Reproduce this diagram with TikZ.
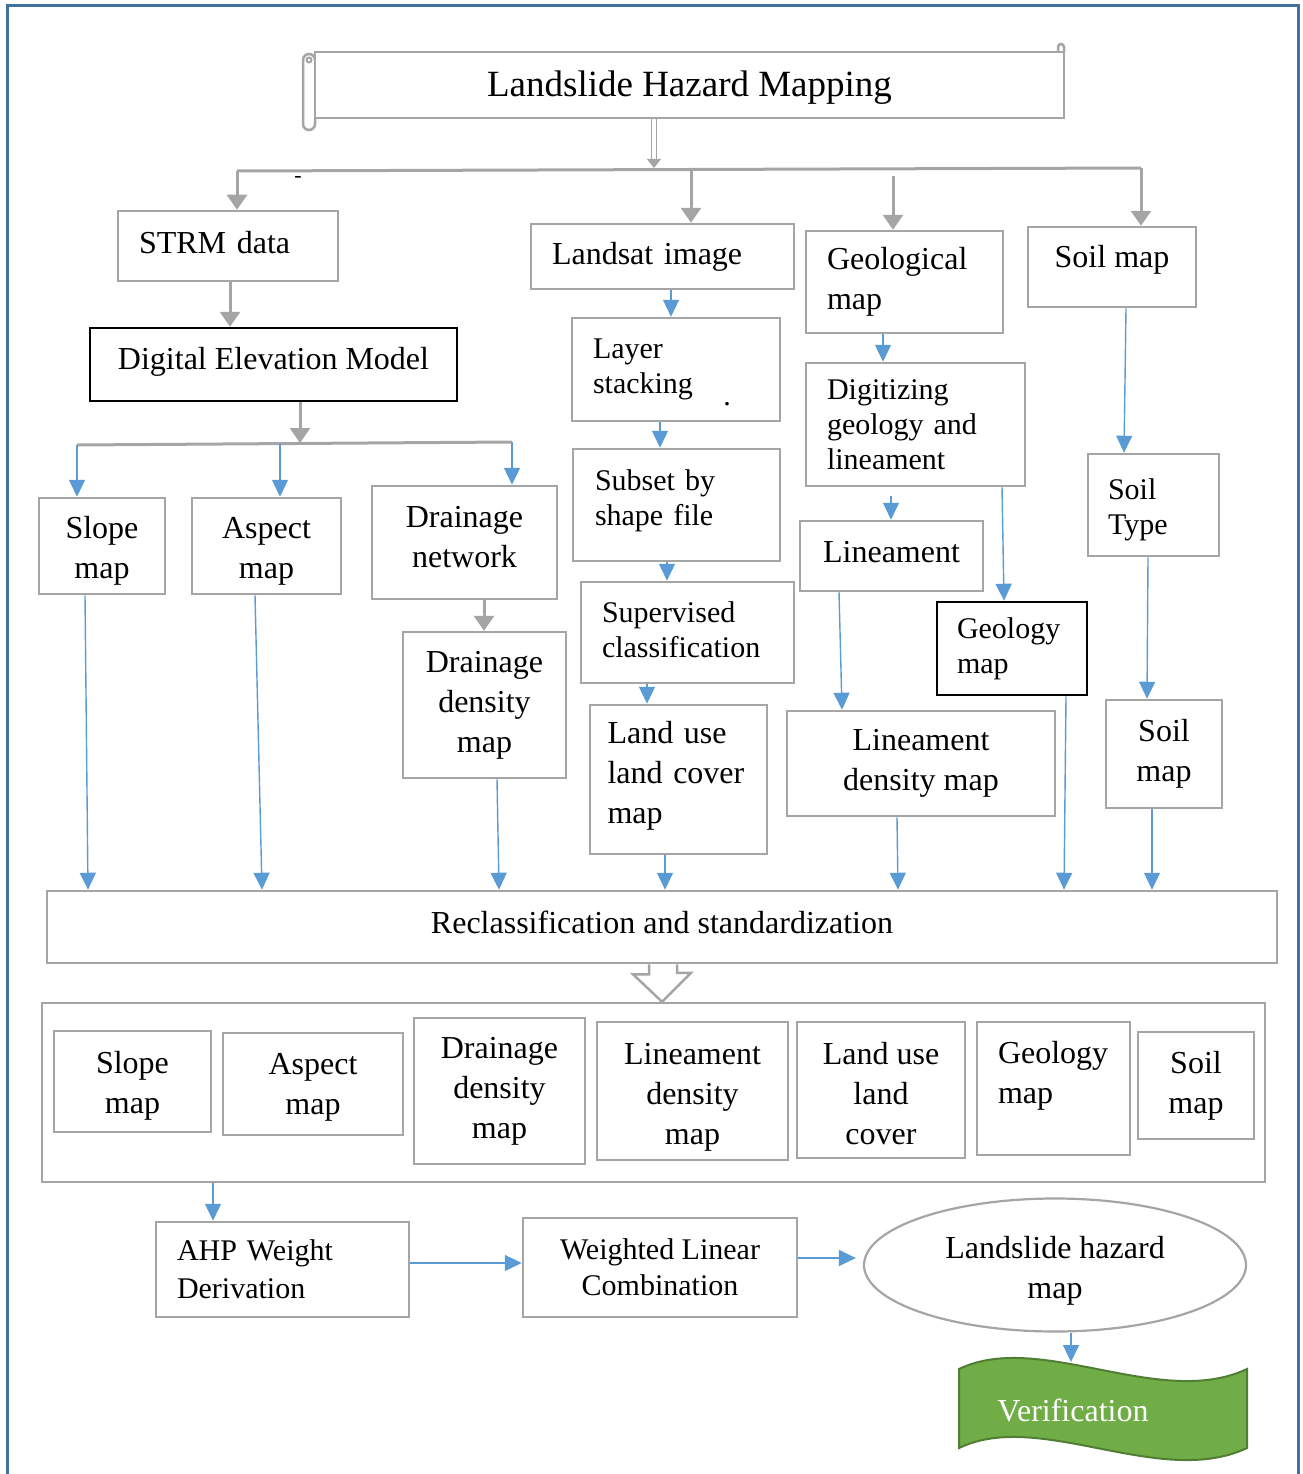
\documentclass[tikz,border=0pt]{standalone}
\usepackage{fontspec}
\setmainfont{Liberation Serif}
\usetikzlibrary{arrows.meta,shapes.geometric}

\definecolor{boxgray}{HTML}{A5A5A5}
\definecolor{linkblue}{HTML}{5B9BD5}
\definecolor{frameblue}{HTML}{41719C}
\definecolor{verifgreen}{HTML}{70AD47}
\definecolor{verifedge}{HTML}{507E32}

\newcommand{\fsnorm}{\fontsize{32}{40}\selectfont}
\newcommand{\fssmall}{\fontsize{30}{35}\selectfont}
\newcommand{\fstitle}{\fontsize{37}{44}\selectfont}
% invisible struts to nudge text in its box
\newcommand{\lift}[1]{\rule[-#1]{0pt}{0pt}}
\newcommand{\drop}[1]{\rule{0pt}{#1}}

\tikzset{
  box/.style={draw=boxgray, line width=2.5pt, inner sep=0pt, font=\fsnorm, align=center},
  darkbox/.style={box, draw=black},
  lbox/.style={box, align=left},
  gline/.style={draw=boxgray, line width=3pt},
  garrow/.style={draw=boxgray, line width=3pt, -{Triangle[length=15pt,width=20pt]}},
  gdouble/.style={draw=boxgray, line width=1.5pt, double=white, double distance=3.5pt, -{Triangle[length=9pt,width=14pt]}},
  barrow/.style={draw=linkblue, line width=1.4pt, -{Triangle[length=17pt,width=16pt]}},
  hollow/.style={draw=boxgray, line width=2.5pt, fill=white, line join=miter},
}

\begin{document}
\begin{tikzpicture}[x=1pt,y=1pt,yscale=-1,xscale=1]
\useasboundingbox (0,0) rectangle (1302,1474);

%Frame
\draw[frameblue, line width=3pt] (7,1474) -- (7,6) -- (1298,6) -- (1298,1474);

%Shape: Horizontal Scroll
\node[box, font=\fstitle, minimum width=749, minimum height=66] (title) at (689.5,85) {\drop{31pt}Landslide Hazard Mapping};
\draw[boxgray, line width=2.5pt] (303,60) -- (303,124) arc[start angle=180, end angle=0, radius=6] -- (315,118);
\draw[boxgray, line width=2.5pt] (303,60) arc[start angle=180, end angle=360, radius=6];
\draw[boxgray, line width=2pt] (309,60) circle[radius=2.5];
\draw[boxgray, line width=2.5pt] (1058,52) -- (1058,47) arc[start angle=180, end angle=360, radius=3] -- (1064,52);

% Sources
\node[lbox, minimum width=220, minimum height=70, text width=178] (strm) at (228,246) {STRM data\lift{8pt}};
\node[lbox, minimum width=263, minimum height=65, text width=221] (landsat) at (662.5,256.5) {Landsat image};
\node[lbox, minimum width=197, minimum height=102, text width=155] (geol) at (904.5,282) {Geological\\map};
\node[box, minimum width=168, minimum height=80] (soilA) at (1112,267) {Soil map\lift{21pt}};

% Terrain column
\node[darkbox, minimum width=367, minimum height=73] (dem) at (273.5,364.5) {Digital Elevation Model\lift{13pt}};
\node[box, minimum width=126, minimum height=96] (slope) at (102,546) {\drop{32pt}Slope\\map};
\node[box, minimum width=149, minimum height=96] (aspect) at (266.5,546) {\drop{32pt}Aspect\\map};
\node[box, minimum width=185, minimum height=113] (dnet) at (464.5,542.5) {Drainage\\network\lift{12pt}};
\node[box, minimum width=163, minimum height=146] (ddens) at (484.5,705) {Drainage\\density\\map};

% Image column
\node[lbox, font=\fssmall, minimum width=208, minimum height=103, text width=166] (layer) at (676,369.5) {Layer\\stacking};
\node[lbox, font=\fssmall, minimum width=207, minimum height=112, text width=163] (subset) at (676.5,505) {Subset by\\shape file\lift{14.5pt}};
\node[lbox, font=\fssmall, minimum width=213, minimum height=101, text width=171] (superv) at (687.5,632.5) {Supervised\\classification\lift{6pt}};
\node[lbox, minimum width=177, minimum height=149, text width=142] (landuse) at (678.5,779.5) {Land use\\land cover\\map\lift{15pt}};

% Geology column
\node[lbox, font=\fssmall, minimum width=219, minimum height=123, text width=177] (digit) at (915.5,424.5) {Digitizing\\geology and\\lineament};
\node[box, minimum width=183, minimum height=70] (linea) at (891.5,556) {Lineament\lift{8pt}};
\node[box, minimum width=268, minimum height=105] (ldens) at (921,763.5) {Lineament\\density map};
\node[darkbox, align=left, font=\fssmall, minimum width=150, minimum height=93, text width=110] (geomap) at (1012,648.5) {Geology\\map};

% Soil column
\node[lbox, font=\fssmall, minimum width=131, minimum height=102, text width=91] (soilT) at (1153.5,505) {\drop{31pt}Soil\\Type};
\node[box, minimum width=116, minimum height=108] (soilB) at (1164,754) {Soil\\map};

% Stray marks
\node[font=\fontsize{22}{22}\selectfont, inner sep=0pt] (dash) at (298,179) {-};
\node[font=\fssmall, inner sep=0pt] (dot) at (727,404) {.};

% Reclassification
\node[box, minimum width=1230, minimum height=72] (recl) at (662,927) {Reclassification and standardization\lift{10pt}};

% Factor maps
\node[box, minimum width=1223, minimum height=179] (factors) at (653.5,1092.5) {};
\node[box, minimum width=157, minimum height=101] (slope2) at (132.5,1081.5) {\drop{30pt}Slope\\map};
\node[box, minimum width=180, minimum height=102] (aspect2) at (313,1084) {\drop{28pt}Aspect\\map};
\node[box, minimum width=171, minimum height=146] (ddens2) at (499.5,1091) {Drainage\\density\\map};
\node[box, minimum width=191, minimum height=138] (ldens2) at (692.5,1091) {\drop{34pt}Lineament\\density\\map};
\node[box, minimum width=168, minimum height=136] (landuse2) at (881,1090) {\drop{30pt}Land use\\land\\cover};
\node[lbox, minimum width=153, minimum height=133, text width=111] (geomap2) at (1053.5,1088.5) {\drop{30pt}Geology\\map\\\mbox{}};
\node[box, minimum width=116, minimum height=107] (soil2) at (1196,1085.5) {Soil\\map};

% Final steps
\node[lbox, font=\fontsize{30}{38}\selectfont, minimum width=253, minimum height=95, text width=211] (ahp) at (282.5,1269.5) {AHP Weight\\Derivation};
\node[box, font=\fontsize{30}{36}\selectfont, minimum width=274, minimum height=99] (wlc) at (660,1267.5) {Weighted Linear\\Combination};
\node[ellipse, draw=boxgray, line width=2.2pt, inner sep=0pt, font=\fsnorm, align=center, minimum width=382, minimum height=133] (hazard) at (1055,1265) {\drop{34pt}Landslide hazard\\map};

%Shape: Wave
\draw[fill=verifgreen, draw=verifedge, line width=2pt] (959,1369) .. controls (1040,1330) and (1160,1410) .. (1247,1369) -- (1247,1448) .. controls (1160,1489) and (1040,1409) .. (959,1448) -- cycle;
\node[font=\fsnorm, text=white, inner sep=0pt] (verif) at (1073,1410) {Verification};

% Top distribution
\coordinate (hub) at (654,168);
\coordinate (top1) at (237,171);
\coordinate (top2) at (691,170);
\coordinate (top3) at (893,176);
\coordinate (top4) at (1141,168);
\draw[gdouble] (title.south -| hub) -- (hub);
\draw[gline] (top1) -- (top4);
\draw[garrow] (top1) -- (strm.north -| top1);
\draw[garrow] (top2) -- (landsat.north -| top2);
\draw[garrow] (top3) -- (geol.north -| top3);
\draw[garrow] (top4) -- (soilA.north -| top4);

% Terrain links
\draw[garrow] (strm.south -| 230,0) -- (dem.north -| 230,0);
\coordinate (dsplit) at (300,443);
\coordinate (dleft) at (77,445);
\coordinate (dmid) at (280,443.5);
\coordinate (dright) at (512,442);
\draw[garrow] (dem.south -| dsplit) -- (dsplit);
\draw[gline] (dleft) -- (dright);
\draw[barrow] (dleft) -- (slope.north -| dleft);
\draw[barrow] (dmid) -- (aspect.north -| dmid);
\draw[barrow] (dright) -- (dnet.north -| dright);
\draw[garrow] (dnet.south -| 484,0) -- (ddens.north -| 484,0);

% Image links
\draw[barrow] (landsat.south -| 671,0) -- (layer.north -| 671,0);
\draw[barrow] (layer.south -| 660,0) -- (subset.north -| 660,0);
\draw[barrow] (subset.south -| 667,0) -- (superv.north -| 667,0);
\draw[barrow] (superv.south -| 647,0) -- (landuse.north -| 647,0);

% Geology links
\draw[barrow] (geol.south -| 883,0) -- (digit.north -| 883,0);
\draw[barrow, shorten <=9pt] (digit.south -| 891,0) -- (linea.north -| 891,0);
\draw[barrow] (linea.south -| 839,0) -- (ldens.north -| 842,0);
\draw[barrow] (digit.south -| 1002,0) -- (geomap.north -| 1004,0);

% Soil links
\draw[barrow] (soilA.south -| 1126,0) -- (soilT.north -| 1124,0);
\draw[barrow] (soilT.south -| 1148,0) -- (soilB.north -| 1147,0);

% Into reclassification
\draw[barrow] (slope.south -| 85,0) -- (recl.north -| 88,0);
\draw[barrow] (aspect.south -| 255,0) -- (recl.north -| 262,0);
\draw[barrow] (ddens.south -| 497,0) -- (recl.north -| 499,0);
\draw[barrow] (landuse.south -| 665,0) -- (recl.north -| 665,0);
\draw[barrow] (ldens.south -| 897,0) -- (recl.north -| 898,0);
\draw[barrow] (geomap.south -| 1066,0) -- (recl.north -| 1064,0);
\draw[barrow] (soilB.south -| 1152,0) -- (recl.north -| 1152,0);

%Shape: Down Arrow
\draw[hollow] ([xshift=-13]recl.south) -- ++(0,10) -- ++(-16,0) -- (recl.south |- factors.north) -- ++(29,-29) -- ++(-14,0) -- ([xshift=15]recl.south);

% Final links
\coordinate (vtop) at (1071,1362);
\draw[barrow] (factors.south -| 213,0) -- (ahp.north -| 213,0);
\draw[barrow] (ahp.east |- 0,1263) -- (wlc.west |- 0,1263);
\draw[barrow, shorten >=7pt] (wlc.east |- 0,1258) -- (hazard.west |- 0,1258);
\draw[barrow] (hazard.south -| vtop) -- (vtop);

\end{tikzpicture}
\end{document}
